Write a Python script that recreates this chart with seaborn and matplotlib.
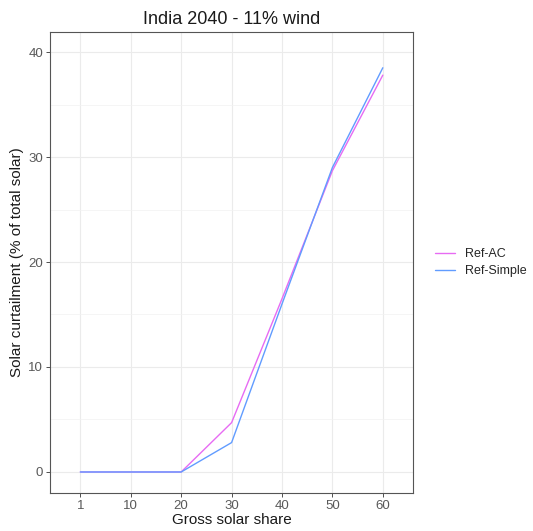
import pandas as pd
import numpy as np
import seaborn as sns
import matplotlib.pyplot as plt
from matplotlib.ticker import MultipleLocator

# Data
solar_share = ['1', '10', '20', '30', '40', '50', '60']
ref_ac = [0, 0, 0, 4.7, 16.5, 28.7, 37.8]
ref_simple = [0, 0, 0, 2.8, 16.0, 29.0, 38.5]
series = ['Ref-AC', 'Ref-Simple']
colors = {'Ref-AC': '#E76BF3', 'Ref-Simple': '#619CFF'}

df = pd.DataFrame({
    'share': solar_share * 2,
    'curtailment': ref_ac + ref_simple,
    'scenario': [series[0]] * len(ref_ac) + [series[1]] * len(ref_simple),
})

sns.set_style('white')
plt.rcParams['font.family'] = ['Liberation Sans', 'DejaVu Sans']

fig = plt.figure(figsize=(5.33, 5.31), dpi=100)
ax = fig.add_axes([0.094, 0.0716, 0.681, 0.868])

sns.lineplot(data=df, x='share', y='curtailment', hue='scenario', palette=colors,
             linewidth=1.0, ax=ax, sort=False)

# ggplot-like theme_bw
ax.set_xlim(-0.6, 6.6)
ax.set_ylim(-2.0, 41.9)
ax.yaxis.set_major_locator(MultipleLocator(10))
ax.yaxis.set_minor_locator(MultipleLocator(5))
ax.grid(True, which='major', color='#EBEBEB', linewidth=0.8)
ax.grid(True, which='minor', axis='y', color='#F2F2F2', linewidth=0.5)
ax.set_axisbelow(True)
for s in ax.spines.values():
    s.set_color('#555555')
    s.set_linewidth(0.8)
ax.tick_params(axis='both', which='major', length=3, width=0.6, color='#333333',
               labelsize=9.5, labelcolor='#595959', pad=2, bottom=True, left=True)
ax.tick_params(axis='y', which='minor', length=0)

ax.set_title('India 2040 - 11% wind', fontsize=13, color='#1A1A1A', pad=6)
ax.set_xlabel('Gross solar share', fontsize=11, color='#1A1A1A', labelpad=1)
ax.set_ylabel('Solar curtailment (% of total solar)', fontsize=11, color='#1A1A1A', labelpad=3)

handles, labels = ax.get_legend_handles_labels()
ax.legend(handles, labels, loc='center left', bbox_to_anchor=(1.03, 0.5), frameon=False,
          fontsize=9, handlelength=1.6, handletextpad=0.8, labelspacing=0.4)

fig.savefig('out.png', dpi=100)
